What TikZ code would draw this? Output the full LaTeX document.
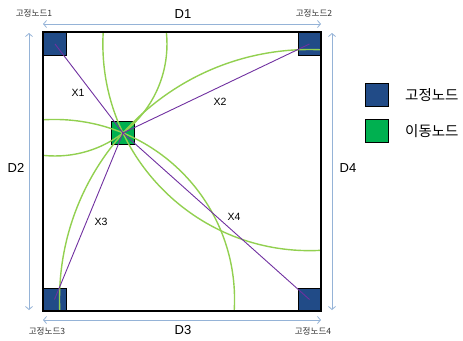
\documentclass[tikz,border=0pt]{standalone}
\usepackage{fontspec}
\setmainfont{Liberation Sans}
\newfontfamily\kr{Noto Sans CJK KR}
\usetikzlibrary{arrows.meta,calc}
\definecolor{fixblue}{RGB}{33,75,135}
\definecolor{movgreen}{RGB}{0,176,80}
\definecolor{arcgreen}{RGB}{146,208,80}
\definecolor{purp}{RGB}{112,48,160}
\definecolor{dimblue}{RGB}{149,179,215}
\tikzset{
  fixednode/.style={draw=black,line width=0.9pt,fill=fixblue,minimum size=23pt,inner sep=0pt},
  movenode/.style={draw=black,line width=0.9pt,fill=movgreen,minimum size=23pt,inner sep=0pt},
  arcline/.style={draw=arcgreen,line width=1.4pt},
  distline/.style={draw=purp,line width=0.9pt},
  dimline/.style={draw=dimblue,line width=0.8pt,{Straight Barb[length=3pt,width=7pt]}-{Straight Barb[length=3pt,width=7pt]}},
  cornerlbl/.style={font=\kr\fontsize{8.6}{10}\selectfont,text=black!80,inner sep=0pt},
  dimlbl/.style={font=\fontsize{13}{15}\selectfont,inner sep=0pt},
  xlbl/.style={font=\fontsize{10.5}{12}\selectfont,inner sep=0pt},
  legendlbl/.style={font=\kr\fontsize{14.5}{16}\selectfont,anchor=west,inner sep=0pt}
}
\begin{document}
\begin{tikzpicture}[x=1pt,y=-1pt]
\useasboundingbox (0,0) rectangle (463,340);
% nodes
\node[fixednode] (f1) at (55,44) {};
\node[fixednode] (f2) at (309.5,44) {};
\node[fixednode] (f3) at (54.5,299.5) {};
\node[fixednode] (f4) at (309.5,299.5) {};
\node[movenode] (m) at (123,133) {};
% arcs
\begin{scope}
\clip (43,32) rectangle (321,311);
\foreach \f in {f1,f2,f3,f4}{
  \draw[arcline] let \p1=($(m.center)-(\f.center)$), \n1={veclen(\x1,\y1)} in (\f.center) circle[radius=\n1];
}
\end{scope}
% distance lines
\draw[distline] (m.center) -- (f1.center);
\draw[distline] (m.center) -- (f2.center);
\draw[distline] (m.center) -- (f3.center);
\draw[distline] (m.center) -- (f4.center);
% square frame
\draw[line width=1.6pt] (43,32) rectangle (321,311);
% dimension lines
\coordinate (d1a) at (43,24); \coordinate (d1b) at (321,24);
\coordinate (d3a) at (43,320); \coordinate (d3b) at (321,320);
\coordinate (d2a) at (29,33); \coordinate (d2b) at (29,310);
\coordinate (d4a) at (332,33); \coordinate (d4b) at (332,310);
\draw[dimline] (d1a) -- (d1b);
\draw[dimline] (d3a) -- (d3b);
\draw[dimline] (d2a) -- (d2b);
\draw[dimline] (d4a) -- (d4b);
\node[dimlbl] (D1) at (183,14) {D1};
\node[dimlbl] (D3) at (183,330) {D3};
\node[dimlbl] (D2) at (16,168) {D2};
\node[dimlbl] (D4) at (348,168) {D4};
% corner labels
\node[cornerlbl] (c1) at (34,13) {고정노드1};
\node[cornerlbl] (c2) at (314,13) {고정노드2};
\node[cornerlbl] (c3) at (47,331) {고정노드3};
\node[cornerlbl] (c4) at (313,331) {고정노드4};
% X labels
\node[xlbl] (x1) at (78,93) {X1};
\node[xlbl] (x2) at (220,102) {X2};
\node[xlbl] (x3) at (101,222) {X3};
\node[xlbl] (x4) at (234,217) {X4};
% legend
\node[fixednode] (lf) at (376.5,94.5) {};
\node[movenode] (lm) at (376.5,130.5) {};
\node[legendlbl] (lft) at (405,95) {고정노드};
\node[legendlbl] (lmt) at (405,131) {이동노드};
\end{tikzpicture}
\end{document}
